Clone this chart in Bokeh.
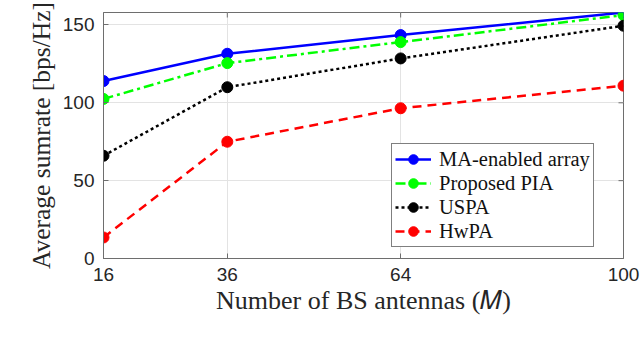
import math
from bokeh.plotting import figure
from bokeh.models import (FixedTicker, Legend, LegendItem, Range1d)
from bokeh.embed import file_html
from bokeh.resources import INLINE

# ---- data ----
antennas = [16, 36, 64, 100]
ma_enabled = [114, 131.5, 143.5, 158]
proposed_pia = [102.5, 125.5, 139, 156.3]
uspa = [66, 110, 128.5, 149.5]
hwpa = [13.5, 75, 96.5, 111]
x_ticks = [16, 36, 64, 100]
y_ticks = [0, 50, 100, 150]
x_min, x_max = 16, 100
y_min, y_max = 0, 158
series_names = ["MA-enabled array", "Proposed PIA", "USPA", "HwPA"]

AX = "#6e6e6e"
TXT = "#262626"
SERIF = "Liberation Serif"
SANS = "Liberation Sans"

p = figure(width=640, height=343, output_backend="svg", toolbar_location=None,
           x_range=Range1d(x_min, x_max), y_range=Range1d(y_min, y_max),
           min_border_left=103, min_border_right=17, min_border_top=12,
           min_border_bottom=85)
p.background_fill_color = "white"
p.border_fill_color = "white"
p.outline_line_color = AX
p.outline_line_width = 1

for ax in (p.xaxis[0], p.yaxis[0]):
    ax.axis_line_color = AX
    ax.major_tick_line_color = AX
    ax.major_tick_in = 5
    ax.major_tick_out = 0
    ax.minor_tick_line_color = None
    ax.major_label_text_font = SANS
    ax.major_label_text_font_size = "19px"
    ax.major_label_text_color = TXT
    ax.axis_label_text_font = SERIF
    ax.axis_label_text_font_style = "normal"
    ax.axis_label_text_color = TXT

p.xaxis.axis_label_text_font_size = "26px"
p.yaxis.axis_label_text_font_size = "25.5px"
p.xaxis.ticker = FixedTicker(ticks=x_ticks)
p.yaxis.ticker = FixedTicker(ticks=y_ticks)
p.xaxis.axis_label = "Number of BS antennas (𝑀)"
p.yaxis.axis_label = "Average sumrate [bps/Hz]"
p.xaxis.major_label_standoff = 9
p.xaxis.axis_label_standoff = 2
p.yaxis.major_label_standoff = 9
p.yaxis.axis_label_standoff = 4

p.xgrid.ticker = FixedTicker(ticks=x_ticks)
p.ygrid.ticker = FixedTicker(ticks=y_ticks)
p.grid.grid_line_color = "#e3e3e3"
p.grid.grid_line_width = 1

# inward ticks on the top and right sides of the box
p.scatter(x_ticks, [y_max] * len(x_ticks), marker="dash", angle=math.pi / 2,
          size=10, line_color=AX, line_width=1)
p.scatter([x_max] * len(y_ticks), y_ticks, marker="dash",
          size=10, line_color=AX, line_width=1)

styles = [
    (ma_enabled, "#0000ff", "solid"),
    (proposed_pia, "#00ff00", "10 4 3 4"),
    (uspa, "#000000", "3 3"),
    (hwpa, "#ff0000", "9 6"),
]
items = []
for (ys, col, dash), name in zip(styles, series_names):
    l = p.line(antennas, ys, line_color=col, line_width=2.5, line_dash=dash)
    s = p.scatter(antennas, ys, size=11, fill_color=col, line_color=col)
    items.append(LegendItem(label=name, renderers=[l, s]))

legend = Legend(items=items, location=(288, 11), border_line_color="black",
                border_line_width=1, background_fill_color="white",
                background_fill_alpha=1, padding=3, spacing=0, margin=0,
                glyph_width=36, glyph_height=24, label_height=24,
                label_standoff=8, label_text_font=SERIF,
                label_text_font_size="20.5px", label_text_color="#111111")
p.add_layout(legend, "center")

open("out.html", "w").write(file_html(p, INLINE))
